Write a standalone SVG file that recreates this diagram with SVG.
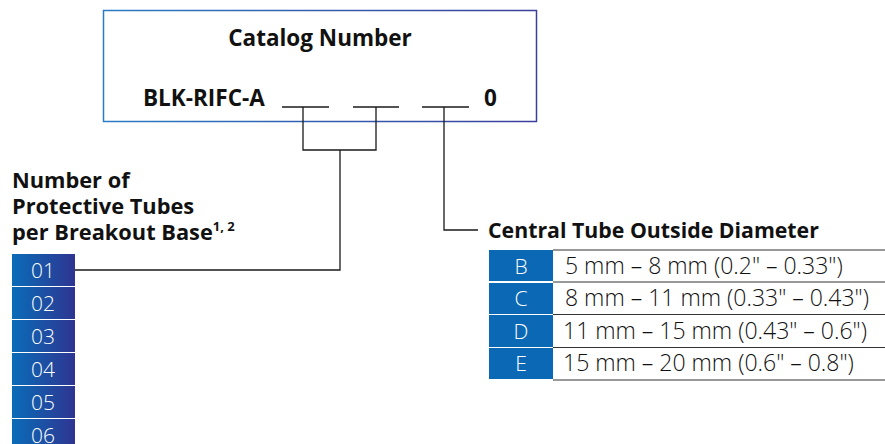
<svg xmlns="http://www.w3.org/2000/svg" width="885" height="444" viewBox="0 0 885 444">
<defs>
<linearGradient id="gb" x1="0" y1="0" x2="1" y2="0"><stop offset="0" stop-color="#2a7cc4"/><stop offset="1" stop-color="#3b3f9c"/></linearGradient>
<linearGradient id="gc" x1="0" y1="0" x2="1" y2="0"><stop offset="0" stop-color="#0a6cb8"/><stop offset="1" stop-color="#2e3591"/></linearGradient>
<style>
.h{font-family:"Open Sans","Noto Sans","Liberation Sans",sans-serif;font-weight:700;fill:#111}
.c{font-family:"Open Sans","Noto Sans","Liberation Sans",sans-serif;font-weight:300;fill:#fff;font-size:21px}
.t{font-family:"Open Sans","Noto Sans","Liberation Sans",sans-serif;font-weight:300;fill:#111;font-size:23px}
.ln{stroke:#1a1a1a;stroke-width:1.3;fill:none}
.rl{stroke:#333;stroke-width:1.2}
</style>
</defs>
<g id="catalog">
<rect x="103.5" y="10.5" width="433" height="111" fill="#fff" stroke="url(#gb)" stroke-width="1.5"/>
<text class="h" x="320" y="46" font-size="22.5" text-anchor="middle">Catalog Number</text>
<text class="h" x="143" y="106" font-size="22.5">BLK-RIFC-A</text>
<line class="ln" x1="282" y1="107" x2="329" y2="107"/>
<line class="ln" x1="353" y1="107" x2="399" y2="107"/>
<line class="ln" x1="422" y1="107" x2="469" y2="107"/>
<text class="h" x="484" y="106" font-size="22.5">0</text>
</g>
<g id="connectors">
<polyline class="ln" points="303,107 303,150 376,150 376,107"/>
<polyline class="ln" points="340,150 340,270 75,270"/>
<polyline class="ln" points="444,107 444,230 478,230"/>
</g>
<g id="tubes">
<text class="h" font-size="21.8"><tspan x="12" y="188">Number of</tspan><tspan x="12" y="214">Protective Tubes</tspan><tspan x="12" y="240">per Breakout Base<tspan font-size="13" dy="-9">1, 2</tspan></tspan></text>
<rect x="12" y="254" width="63" height="32" fill="url(#gc)"/>
<rect x="12" y="287" width="63" height="32" fill="url(#gc)"/>
<rect x="12" y="320" width="63" height="32" fill="url(#gc)"/>
<rect x="12" y="353" width="63" height="32" fill="url(#gc)"/>
<rect x="12" y="386" width="63" height="32" fill="url(#gc)"/>
<rect x="12" y="419" width="63" height="32" fill="url(#gc)"/>
<g text-anchor="middle">
<text class="c" x="43" y="278">01</text>
<text class="c" x="43" y="311">02</text>
<text class="c" x="43" y="344">03</text>
<text class="c" x="43" y="377">04</text>
<text class="c" x="43" y="410">05</text>
<text class="c" x="43" y="443">06</text>
</g>
</g>
<g id="diameter">
<text class="h" x="488" y="238" font-size="21.3">Central Tube Outside Diameter</text>
<rect x="489" y="250" width="64" height="31" fill="#0b68b5"/>
<rect x="489" y="283" width="64" height="31" fill="#0b68b5"/>
<rect x="489" y="315" width="64" height="32" fill="#0b68b5"/>
<rect x="489" y="348" width="64" height="31" fill="#0b68b5"/>
<line class="rl" x1="553" y1="250" x2="885" y2="250"/>
<line class="rl" x1="553" y1="282" x2="885" y2="282"/>
<line class="rl" x1="553" y1="314.5" x2="885" y2="314.5"/>
<line class="rl" x1="553" y1="347.5" x2="885" y2="347.5"/>
<line class="rl" x1="553" y1="380" x2="885" y2="380"/>
<g text-anchor="middle">
<text class="c" x="521" y="274">B</text>
<text class="c" x="521" y="306">C</text>
<text class="c" x="521" y="339">D</text>
<text class="c" x="521" y="371">E</text>
</g>
<text class="t" x="565" y="274">5 mm – 8 mm (0.2" – 0.33")</text>
<text class="t" x="565" y="306">8 mm – 11 mm (0.33" – 0.43")</text>
<text class="t" x="563" y="339">11 mm – 15 mm (0.43" – 0.6")</text>
<text class="t" x="563" y="371">15 mm – 20 mm (0.6" – 0.8")</text>
</g>
</svg>
